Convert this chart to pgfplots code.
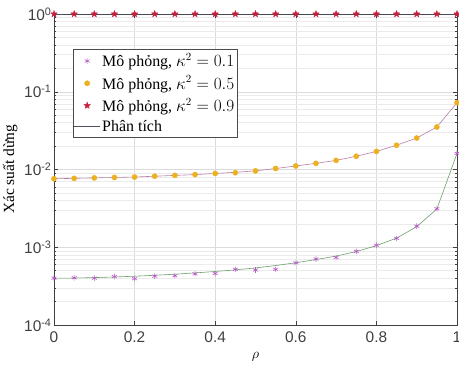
\documentclass[border=0pt]{standalone}
\usepackage{fontspec}
\setmainfont{Liberation Serif}
\setsansfont{Liberation Sans}
\usepackage{pgfplots}
\pgfplotsset{compat=1.18}
\usetikzlibrary{plotmarks}

\definecolor{simA}{RGB}{185,90,200}
\definecolor{simB}{RGB}{237,177,32}
\definecolor{simC}{RGB}{200,30,60}
\definecolor{anaA}{RGB}{110,160,110}
\definecolor{anaB}{RGB}{185,125,165}
\definecolor{anaC}{RGB}{80,80,100}

% filled five-pointed star
\pgfdeclareplotmark{fstar}{%
  \pgfpathmoveto{\pgfpointpolar{90}{1.3\pgfplotmarksize}}%
  \pgfpathlineto{\pgfpointpolar{126}{0.55\pgfplotmarksize}}%
  \pgfpathlineto{\pgfpointpolar{162}{1.3\pgfplotmarksize}}%
  \pgfpathlineto{\pgfpointpolar{198}{0.55\pgfplotmarksize}}%
  \pgfpathlineto{\pgfpointpolar{234}{1.3\pgfplotmarksize}}%
  \pgfpathlineto{\pgfpointpolar{270}{0.55\pgfplotmarksize}}%
  \pgfpathlineto{\pgfpointpolar{306}{1.3\pgfplotmarksize}}%
  \pgfpathlineto{\pgfpointpolar{342}{0.55\pgfplotmarksize}}%
  \pgfpathlineto{\pgfpointpolar{18}{1.3\pgfplotmarksize}}%
  \pgfpathlineto{\pgfpointpolar{54}{0.55\pgfplotmarksize}}%
  \pgfpathclose\pgfusepathqfillstroke}

% simulated outage probability, kappa^2 = 0.1 / 0.5 / 0.9
\pgfplotstableread{
rho   a        b       c
0     4.00e-4  0.0076  1
0.05  4.05e-4  0.0077  1
0.10  4.00e-4  0.0078  1
0.15  4.20e-4  0.0079  1
0.20  3.95e-4  0.0080  1
0.25  4.25e-4  0.0082  1
0.30  4.30e-4  0.0084  1
0.35  4.55e-4  0.0086  1
0.40  4.60e-4  0.0089  1
0.45  5.20e-4  0.0091  1
0.50  5.10e-4  0.0096  1
0.55  5.20e-4  0.0103  1
0.60  6.30e-4  0.0111  1
0.65  7.05e-4  0.0120  1
0.70  7.40e-4  0.0131  1
0.75  8.85e-4  0.0148  1
0.80  1.06e-3  0.0171  1
0.85  1.30e-3  0.0205  1
0.90  1.87e-3  0.0254  1
0.95  3.13e-3  0.0352  1
1.00  1.61e-2  0.0723  1
}\simtable

% analytical outage probability
\pgfplotstableread{
rho   a        b       c
0     4.00e-4  0.0076  1
0.05  4.02e-4  0.0077  1
0.10  4.07e-4  0.0078  1
0.15  4.15e-4  0.0079  1
0.20  4.24e-4  0.0080  1
0.25  4.36e-4  0.0082  1
0.30  4.50e-4  0.0084  1
0.35  4.68e-4  0.0086  1
0.40  4.88e-4  0.0089  1
0.45  5.12e-4  0.0092  1
0.50  5.42e-4  0.0096  1
0.55  5.82e-4  0.0103  1
0.60  6.32e-4  0.0111  1
0.65  6.95e-4  0.0120  1
0.70  7.70e-4  0.0131  1
0.75  8.80e-4  0.0148  1
0.80  1.05e-3  0.0171  1
0.85  1.31e-3  0.0205  1
0.90  1.84e-3  0.0254  1
0.95  3.10e-3  0.0352  1
1.00  1.61e-2  0.0723  1
}\anatable

\begin{document}
\begin{tikzpicture}
\begin{axis}[
  scale only axis, width=403bp, height=311bp,
  xmin=0, xmax=1, ymin=1e-4, ymax=1, ymode=log,
  xtick={0,0.2,0.4,0.6,0.8,1},
  xticklabels={0,0.2,0.4,0.6,0.8,1},
  ytick={1e-4,1e-3,1e-2,1e-1,1},
  yticklabels={10\textsuperscript{-4},10\textsuperscript{-3},10\textsuperscript{-2},10\textsuperscript{-1},10\textsuperscript{0}},
  tick label style={font=\sffamily\fontsize{15.5}{17}\selectfont, text=black!75},
  xticklabel style={yshift=-3bp},
  yticklabel style={xshift=1bp},
  grid=both,
  major grid style={black!14},
  minor grid style={black!8},
  tick align=inside,
  major tick length=4bp, minor tick length=2.5bp,
  axis line style={black!75},
  every tick/.style={black!75},
  xlabel={$\rho$}, ylabel={Xác suất dừng},
  label style={font=\fontsize{15.5}{18}\selectfont},
  xlabel style={yshift=-3bp},
  clip=false,
  legend cell align=left,
  legend style={at={(0.047,0.886)}, anchor=north west,
    font=\fontsize{16}{18}\selectfont, draw=black!70,
    inner xsep=1bp, inner ysep=2bp, row sep=3.5bp},
  legend image code/.code={%
    \draw[mark repeat=2,mark phase=2] plot coordinates {(0cm,0cm) (0.45cm,0cm) (0.9cm,0cm)};},
]
\coordinate (sw) at (rel axis cs:0,0);

\addplot[only marks, mark=asterisk, mark size=2.8bp, simA, line width=0.6pt]
  table[x=rho, y=a] {\simtable};
\addlegendentry{Mô phỏng, $\kappa^2=0.1$}
\addplot[only marks, mark=*, mark size=2.6bp, draw=simB, fill=simB]
  table[x=rho, y=b] {\simtable};
\addlegendentry{Mô phỏng, $\kappa^2=0.5$}
\addplot[only marks, mark=fstar, mark size=2.7bp, draw=simC, fill=simC, line width=0.3pt]
  table[x=rho, y=c] {\simtable};
\addlegendentry{Mô phỏng, $\kappa^2=0.9$}

\addplot[anaC, line width=0.6pt, no marks] table[x=rho, y=c] {\anatable};
\addlegendentry{Phân tích}
\addplot[anaA, line width=0.6pt, no marks, forget plot] table[x=rho, y=a] {\anatable};
\addplot[anaB, line width=0.6pt, no marks, forget plot] table[x=rho, y=b] {\anatable};
\end{axis}
\pgfresetboundingbox
\path[use as bounding box] ([xshift=-54bp,yshift=-44bp]sw) rectangle ++(459bp,369bp);
\end{tikzpicture}
\end{document}
